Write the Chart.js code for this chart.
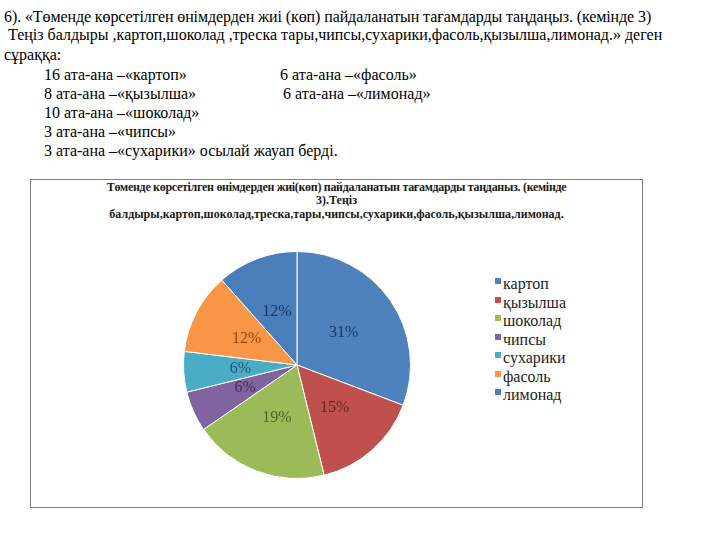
<!DOCTYPE html>
<html>
<head>
<meta charset="utf-8">
<script src="https://cdn.jsdelivr.net/npm/chart.js@4.4.1/dist/chart.umd.min.js"></script>
<style>
  body { margin: 0; width: 720px; height: 540px; background: #fff; position: relative; overflow: hidden;
         font-family: "Liberation Serif", "Times New Roman", serif; color: #000; }
  .t { position: absolute; font-size: 16px; line-height: 19px; white-space: pre; }
  #box { position: absolute; left: 30px; top: 179px; width: 611px; height: 327px; border: 1px solid #7f7f7f; }
  .ttl { position: absolute; left: 0; width: 611px; text-align: center; font-weight: bold; font-size: 12px;
         line-height: 14px; white-space: pre; color: #1a1a1a; }
  #pieWrap { position: absolute; left: 146px; top: 65px; width: 240px; height: 240px; }
  #legend { position: absolute; left: 464px; top: 95px; font-size: 16px; color: #222; }
  #legend div { height: 18.5px; line-height: 18.5px; white-space: pre; }
  #legend span { display: inline-block; width: 6px; height: 6px; margin-right: 2px; vertical-align: 5px; }
</style>
</head>
<body>
<div class="t" style="left:4px;top:7px;letter-spacing:-0.1px">6). «Төменде көрсетілген өнімдерден жиі (көп) пайдаланатын тағамдарды таңдаңыз. (кемінде 3)</div>
<div class="t" style="left:4px;top:25px"> Теңіз балдыры ,картоп,шоколад ,треска тары,чипсы,сухарики,фасоль,қызылша,лимонад.» деген</div>
<div class="t" style="left:4px;top:45px">сұраққа:</div>
<div class="t" style="left:44px;top:65px">16 ата-ана –«картоп»</div>
<div class="t" style="left:280px;top:65px">6 ата-ана –«фасоль»</div>
<div class="t" style="left:44px;top:84px">8 ата-ана –«қызылша»</div>
<div class="t" style="left:283px;top:84px">6 ата-ана –«лимонад»</div>
<div class="t" style="left:44px;top:103px">10 ата-ана –«шоколад»</div>
<div class="t" style="left:44px;top:122px">3 ата-ана –«чипсы»</div>
<div class="t" style="left:44px;top:141px">3 ата-ана –«сухарики» осылай жауап берді.</div>

<div id="box">
  <div class="ttl" style="top:0px;letter-spacing:-0.3px">Төменде көрсетілген өнімдерден жиі(көп) пайдаланатын тағамдарды таңданыз. (кемінде</div>
  <div class="ttl" style="top:13px">3).Теңіз</div>
  <div class="ttl" style="top:27px">балдыры,картоп,шоколад,треска,тары,чипсы,сухарики,фасоль,қызылша,лимонад.</div>
  <div id="pieWrap"><canvas id="pie"></canvas></div>
  <div id="legend"></div>
</div>

<script>
const labels = ['картоп', 'қызылша', 'шоколад', 'чипсы', 'сухарики', 'фасоль', 'лимонад'];
const parents = [16, 8, 10, 3, 3, 6, 6];
const colors = ['#4f81bd', '#c0504d', '#9bbb59', '#8064a2', '#4bacc6', '#f79646', '#4a7ebb'];
const labelColors = ['#17375e', '#632523', '#4f6228', '#3f3151', '#205867', '#974806', '#17375e'];

// percent labels inside each slice, like Excel
const pctLabels = {
  id: 'pctLabels',
  afterDatasetsDraw(chart) {
    const ctx = chart.ctx;
    const total = parents.reduce((a, b) => a + b, 0);
    const meta = chart.getDatasetMeta(0);
    ctx.save();
    ctx.font = '16px "Liberation Serif", serif';
    ctx.textAlign = 'center';
    ctx.textBaseline = 'middle';
    meta.data.forEach((arc, i) => {
      const p = arc.getCenterPoint();
      ctx.fillStyle = labelColors[i];
      ctx.fillText(Math.round(parents[i] / total * 100) + '%', p.x, p.y);
    });
    ctx.restore();
  }
};

new Chart(document.getElementById('pie'), {
  type: 'pie',
  data: {
    labels: labels,
    datasets: [{
      data: parents,
      backgroundColor: colors,
      borderColor: '#ffffff',
      borderWidth: 1
    }]
  },
  options: {
    responsive: true,
    maintainAspectRatio: false,
    animation: false,
    layout: { padding: 6 },
    plugins: {
      legend: { display: false },
      tooltip: { enabled: false }
    }
  },
  plugins: [pctLabels]
});

const legend = document.getElementById('legend');
labels.forEach((name, i) => {
  const row = document.createElement('div');
  row.innerHTML = '<span style="background:' + colors[i] + '"></span>' + name;
  legend.appendChild(row);
});
</script>
</body>
</html>
